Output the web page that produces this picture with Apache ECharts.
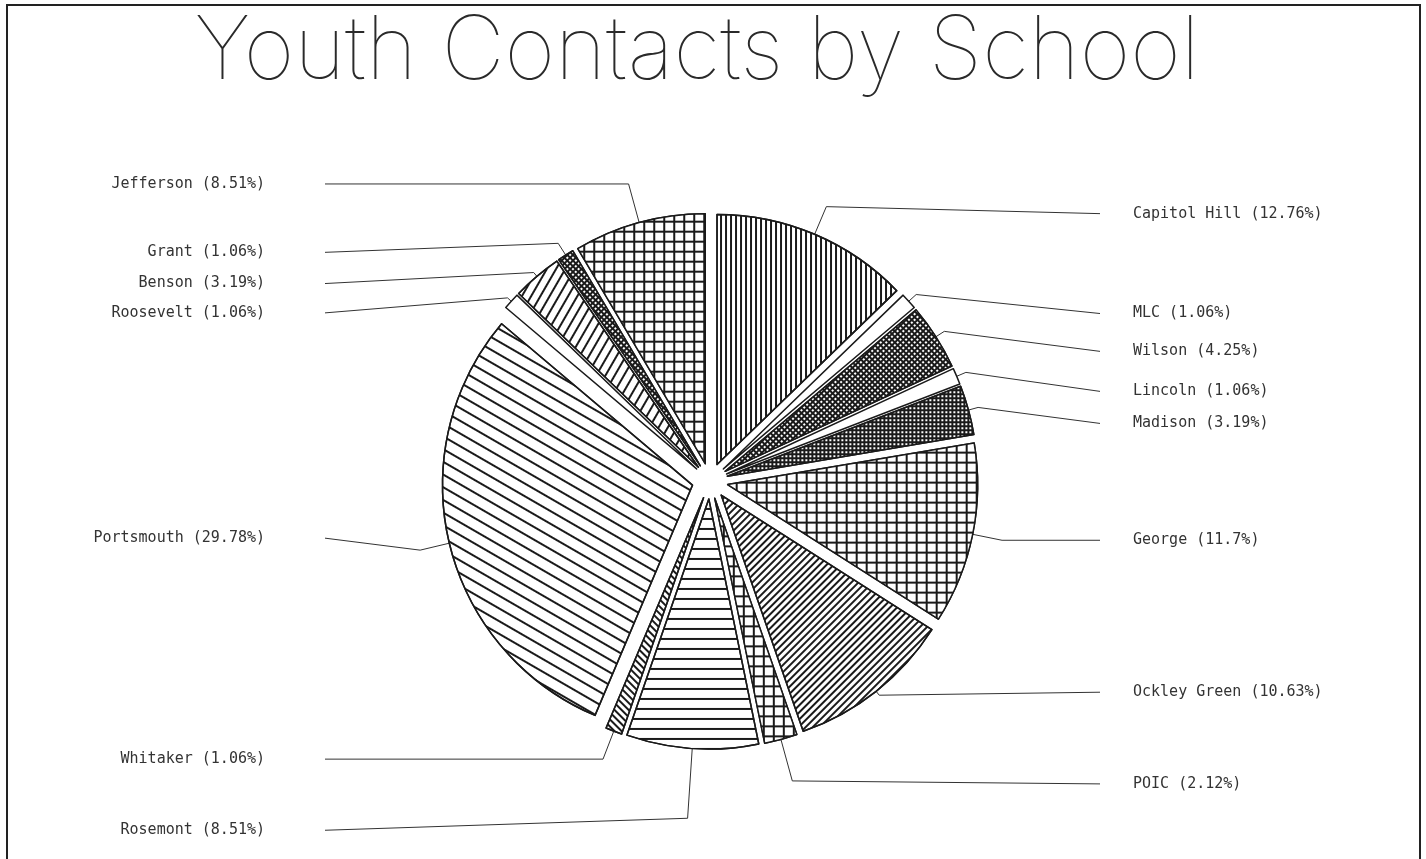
<!DOCTYPE html>
<html><head><meta charset="utf-8">
<script src="https://cdn.jsdelivr.net/npm/echarts@6/dist/echarts.min.js"></script>
<style>html,body{margin:0;padding:0;background:#fff}#c{width:1426px;height:859px}</style>
</head><body><div id="c"></div>
<script>
const titleText = 'Youth Contacts by School';
const schools = ['Capitol Hill','MLC','Wilson','Lincoln','Madison','George','Ockley Green','POIC','Rosemont','Whitaker','Portsmouth','Roosevelt','Benson','Grant','Jefferson'];
const percents = [12.76,1.06,4.25,1.06,3.19,11.7,10.63,2.12,8.51,1.06,29.78,1.06,3.19,1.06,8.51];

const INK = '#1a1a1a';
function lines(spacing, width, rotation) {
  return {symbol:'rect', symbolSize:1, dashArrayX:[1,0], dashArrayY:[width, spacing - width], rotation: rotation, color: INK};
}
function grid(cell, width, rotation) {
  return {symbol:'rect', symbolSize:1, dashArrayX:[cell, width], dashArrayY:[cell, width], rotation: rotation || 0, color:'#fff', backgroundColor: INK};
}
const PI = Math.PI;
const patterns = {
  'Capitol Hill': lines(3.6, 1.3, PI/2),
  'Wilson': grid(2, 1.2, PI/4),
  'Madison': grid(2, 1.2, 0),
  'George': grid(7.5, 1.5, 0),
  'Ockley Green': lines(4, 1.2, -PI/4),
  'POIC': grid(7.5, 1.5, 0),
  'Rosemont': lines(9, 1.6, 0),
  'Whitaker': lines(4, 1.5, PI/4),
  'Portsmouth': lines(10, 1.3, PI/6),
  'Benson': lines(7, 1.3, -PI/3),
  'Grant': grid(2, 1.2, PI/4),
  'Jefferson': grid(8, 1.5, 0)
};
// leader-line styling per label: first segment length and slant of the second segment
const leaderLen = {
  'Jefferson': 40, 'Grant': 14, 'Benson': 5, 'Roosevelt': 5,
  'MLC': 10, 'Wilson': 10, 'Lincoln': 10, 'Madison': 10,
  'Ockley Green': 5, 'POIC': 43, 'Rosemont': 70
};
const leaderSlant = {
  'Capitol Hill': 7, 'MLC': 19, 'Wilson': 20, 'Lincoln': 19, 'Madison': 16,
  'Grant': 9, 'Benson': 11, 'Roosevelt': 15, 'Portsmouth': -12, 'Rosemont': 12, 'POIC': 3, 'Ockley Green': -3
};
const LEFT_LINE_END = 325, LEFT_TEXT_END = 265;
const RIGHT_LINE_END = 1100, RIGHT_TEXT_START = 1133;
const EXPLODE = 18;

// each exploded slice (and its label) is shifted along its mid angle; undo that shift for the label column
const total = percents.reduce(function (a, b) { return a + b; }, 0);
const sliceShift = [];
(function () {
  let cum = 0;
  percents.forEach(function (v) {
    const mid = (cum + v / 2) / total * 2 * PI; // clockwise from 12 o'clock
    sliceShift.push([EXPLODE * Math.sin(mid), -EXPLODE * Math.cos(mid)]);
    cum += v;
  });
})();

const titleFont = '100 88px Inter';
const ctx = document.createElement('canvas').getContext('2d');
ctx.font = titleFont;
const titleScale = 1005 / ctx.measureText(titleText).width;

const chart = echarts.init(document.getElementById('c'), null, {renderer:'canvas'});
chart.setOption({
  animation: false,
  backgroundColor: '#fff',
  graphic: [
    {type:'rect', silent:true, z:-1, shape:{x:7, y:5, width:1413, height:880}, style:{fill:'none', stroke:'#222', lineWidth:2}},
    {type:'text', silent:true, x:697, y:53, scaleX:titleScale,
     style:{text:titleText, font:titleFont, fill:'#2a2a2a', align:'center', verticalAlign:'middle'}}
  ],
  series: [{
    type:'pie',
    center:[710, 481],
    radius:250,
    startAngle:90,
    clockwise:true,
    selectedMode:'multiple',
    selectedOffset:EXPLODE,
    emphasis:{disabled:true},
    itemStyle:{color:'#fff', borderColor:INK, borderWidth:1.5},
    label:{show:true, formatter:'{b} ({c}%)', fontFamily:'DejaVu Sans Mono', fontSize:15, color:'#333', alignTo:'labelLine', distanceToLabelLine:5},
    labelLine:{show:true, length:30, length2:90, lineStyle:{color:'#333', width:1}},
    labelLayout: function (p) {
      const pts = p.labelLinePoints;
      const r = p.labelRect;
      if (!pts || !r) return {};
      const name = schools[p.dataIndex];
      const sh = sliceShift[p.dataIndex];
      const left = pts[2][0] < pts[0][0];
      const slant = leaderSlant[name] || 0;
      const dx = left ? LEFT_TEXT_END - (r.x + r.width) : RIGHT_TEXT_START - r.x;
      const endX = (left ? LEFT_LINE_END : RIGHT_LINE_END) - sh[0];
      return {
        dx: dx - sh[0],
        dy: slant,
        labelLinePoints: [pts[0], pts[1], [endX, pts[1][1] + slant]]
      };
    },
    data: schools.map(function (n, i) {
      const item = {name:n, value:percents[i], selected:true};
      if (patterns[n]) item.itemStyle = {decal: patterns[n]};
      if (leaderLen[n] !== undefined) item.labelLine = {length: leaderLen[n]};
      return item;
    })
  }]
});
</script>
</body></html>
